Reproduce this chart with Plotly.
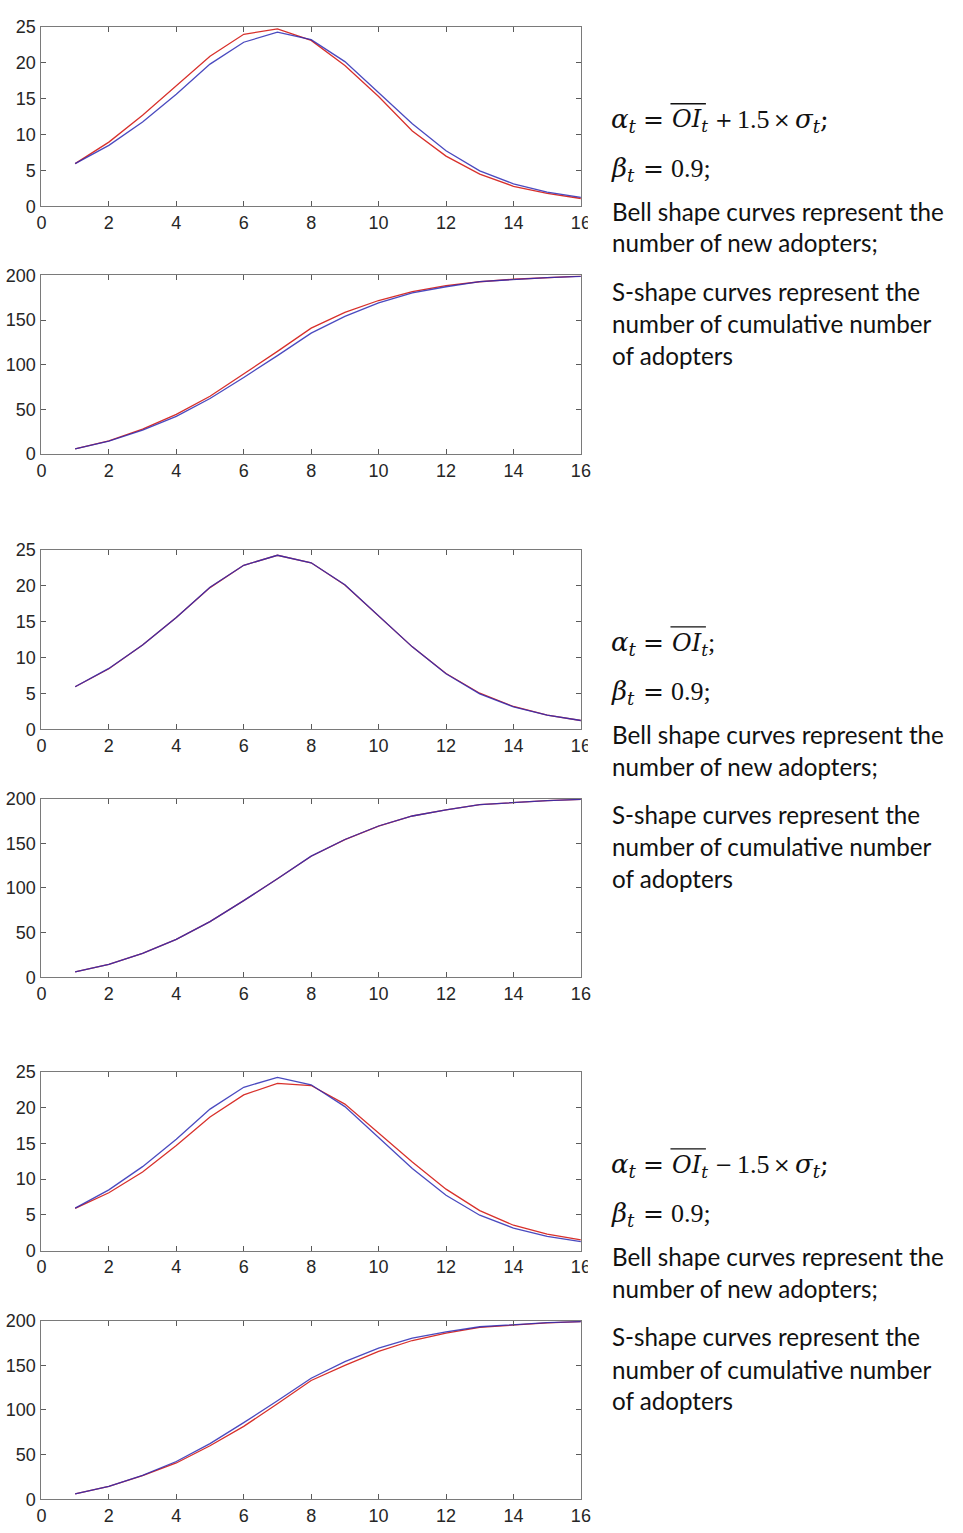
import plotly.graph_objects as go

W, H = 963, 1533

# time periods
t = list(range(1, 17))

# number of new adopters per period
base_new = [5.95, 8.5, 11.75, 15.6, 19.8, 22.85, 24.25, 23.2, 20.15, 15.8, 11.5, 7.75, 4.95, 3.15, 2.0, 1.25]
high_new = [5.95, 8.95, 12.7, 16.8, 20.9, 23.95, 24.7, 23.1, 19.6, 15.3, 10.5, 7.0, 4.5, 2.8, 1.8, 1.1]
mean_new = [5.95, 8.45, 11.75, 15.6, 19.75, 22.85, 24.25, 23.2, 20.1, 15.75, 11.5, 7.8, 5.05, 3.2, 2.0, 1.25]
low_new = [5.9, 8.1, 11.0, 14.7, 18.7, 21.8, 23.4, 23.1, 20.5, 16.5, 12.4, 8.6, 5.6, 3.55, 2.3, 1.5]

# cumulative number of adopters
base_cum = [6.0, 14.5, 26.8, 42.3, 62.3, 85.8, 110.3, 135.5, 154.2, 169.3, 180.5, 187.4, 193.2, 195.8, 197.7, 199.0]
high_cum = [6.0, 14.8, 28.0, 44.6, 64.8, 89.5, 115.0, 141.0, 158.7, 172.0, 182.0, 188.6, 193.0, 195.8, 197.6, 199.2]
mean_cum = [6.0, 14.5, 26.8, 42.3, 62.2, 85.7, 110.2, 135.4, 154.1, 169.2, 180.5, 187.4, 193.2, 195.8, 197.7, 199.0]
low_cum = [6.0, 14.5, 26.5, 40.7, 60.0, 81.7, 107.0, 133.0, 150.0, 165.6, 177.8, 186.0, 192.6, 195.5, 197.6, 198.9]

x_ticks = [0, 2, 4, 6, 8, 10, 12, 14, 16]
new_ticks = [0, 5, 10, 15, 20, 25]
cum_ticks = [0, 50, 100, 150, 200]

RED = "#d8312c"
BLUE = "#2b2bb5"

# panel boxes in pixels: (top, bottom)
panels = [
    (17, 199, high_new, base_new, 25, new_ticks),
    (269, 450, high_cum, base_cum, 200, cum_ticks),
    (547, 729, mean_new, base_new, 25, new_ticks),
    (799, 980, mean_cum, base_cum, 200, cum_ticks),
    (1076, 1257, low_new, base_new, 25, new_ticks),
    (1328, 1509, low_cum, base_cum, 200, cum_ticks),
]
X0, X1 = 37, 585


def px_x(v):
    return v / W


def px_y(v):
    return 1 - v / H


fig = go.Figure()
axis_font = dict(family="Liberation Sans, Arial, sans-serif", size=18, color="#262626")

for i, (top, bot, red_y, blue_y, ymax, yt) in enumerate(panels):
    n = i + 1
    xa = "x" if n == 1 else f"x{n}"
    ya = "y" if n == 1 else f"y{n}"
    fig.add_trace(go.Scatter(x=t, y=red_y, mode="lines", line=dict(color=RED, width=1.3),
                             xaxis=xa, yaxis=ya, showlegend=False))
    fig.add_trace(go.Scatter(x=t, y=blue_y, mode="lines", line=dict(color=BLUE, width=1.3),
                             opacity=0.85, xaxis=xa, yaxis=ya, showlegend=False))
    common = dict(showgrid=False, zeroline=False, showline=True, linecolor="#7a7a7a", linewidth=1,
                  mirror="ticks", ticks="inside", ticklen=5, tickcolor="#5a5a5a", tickwidth=1,
                  tickfont=axis_font)
    fig.update_layout(**{
        ("xaxis" if n == 1 else f"xaxis{n}"): dict(
            domain=[px_x(X0), px_x(X1)], range=[0, 16], tickvals=x_ticks,
            anchor=ya, ticklabelstandoff=0, **common),
        ("yaxis" if n == 1 else f"yaxis{n}"): dict(
            domain=[px_y(bot), px_y(top)], range=[0, ymax], tickvals=yt,
            anchor=xa, ticklabelstandoff=1, **common),
    })

GROUP_TOPS = (17, 547, 1076)

# white text boxes beside the bell-shape panels, and the bar over the mean symbol
shapes = []
for top in GROUP_TOPS:
    shapes.append(dict(type="rect", xref="paper", yref="paper", layer="above",
                       x0=px_x(592), x1=1.01, y0=px_y(top + 212), y1=px_y(top + 45),
                       fillcolor="white", line=dict(width=0)))
    shapes.append(dict(type="line", xref="paper", yref="paper", layer="above",
                       x0=px_x(676), x1=px_x(712), y0=px_y(top + 78), y1=px_y(top + 78),
                       line=dict(color="#111111", width=1.3)))

# fonts for the formula tokens: (family, size, ascent ratio)
GREEK = ("DejaVu Serif, serif", 26, 0.93)
OPER = ("DejaVu Serif, serif", 25, 0.93)
PLUS = ("DejaVu Serif, serif", 21, 0.93)
NUM = ("Liberation Serif, serif", 26, 0.89)
OI = ("DejaVu Serif, serif", 24, 0.93)

alpha_tokens = [
    [("<i>α<sub>t</sub></i>", 615, GREEK), ("=", 647, OPER), ("<i>OI<sub>t</sub></i>", 677, OI),
     ("+", 720, PLUS), ("1.5", 743, NUM), ("×", 779, PLUS), ("<i>σ<sub>t</sub></i>;", 801, GREEK)],
    [("<i>α<sub>t</sub></i>", 615, GREEK), ("=", 647, OPER), ("<i>OI<sub>t</sub></i>", 677, OI),
     (";", 713, NUM)],
    [("<i>α<sub>t</sub></i>", 615, GREEK), ("=", 647, OPER), ("<i>OI<sub>t</sub></i>", 677, OI),
     ("−", 720, PLUS), ("1.5", 743, NUM), ("×", 779, PLUS), ("<i>σ<sub>t</sub></i>;", 801, GREEK)],
]
beta_tokens = [("<i>β<sub>t</sub></i>", 615, GREEK), ("=", 647, OPER), ("0.9;", 675, NUM)]
ALPHA_BASE, BETA_BASE = 101, 151

body_font = dict(family="Lato, Open Sans, sans-serif", size=24.2, color="#111111")
body_lines = [
    ("Bell shape curves represent the", 187),
    ("number of new adopters;", 219),
    ("S-shape curves represent the", 268),
    ("number of cumulative number", 301),
    ("of adopters", 333),
]

annotations = []


def token(text, x, baseline, spec):
    family, size, asc = spec
    annotations.append(dict(text=text, x=px_x(x - 1), y=px_y(baseline - asc * size - 1),
                            xref="paper", yref="paper", xanchor="left", yanchor="top",
                            showarrow=False, font=dict(family=family, size=size, color="#111111")))


for k, top in enumerate(GROUP_TOPS):
    for txt, x, spec in alpha_tokens[k]:
        token(txt, x, top + ALPHA_BASE, spec)
    for txt, x, spec in beta_tokens:
        token(txt, x, top + BETA_BASE, spec)
    for txt, off in body_lines:
        annotations.append(dict(text=txt, x=px_x(615), y=px_y(top + off), xref="paper", yref="paper",
                                xanchor="left", yanchor="middle", showarrow=False, font=body_font))

fig.update_layout(width=W, height=H, margin=dict(l=0, r=0, t=0, b=0),
                  paper_bgcolor="white", plot_bgcolor="white",
                  shapes=shapes, annotations=annotations)

fig.write_html("out.html")
